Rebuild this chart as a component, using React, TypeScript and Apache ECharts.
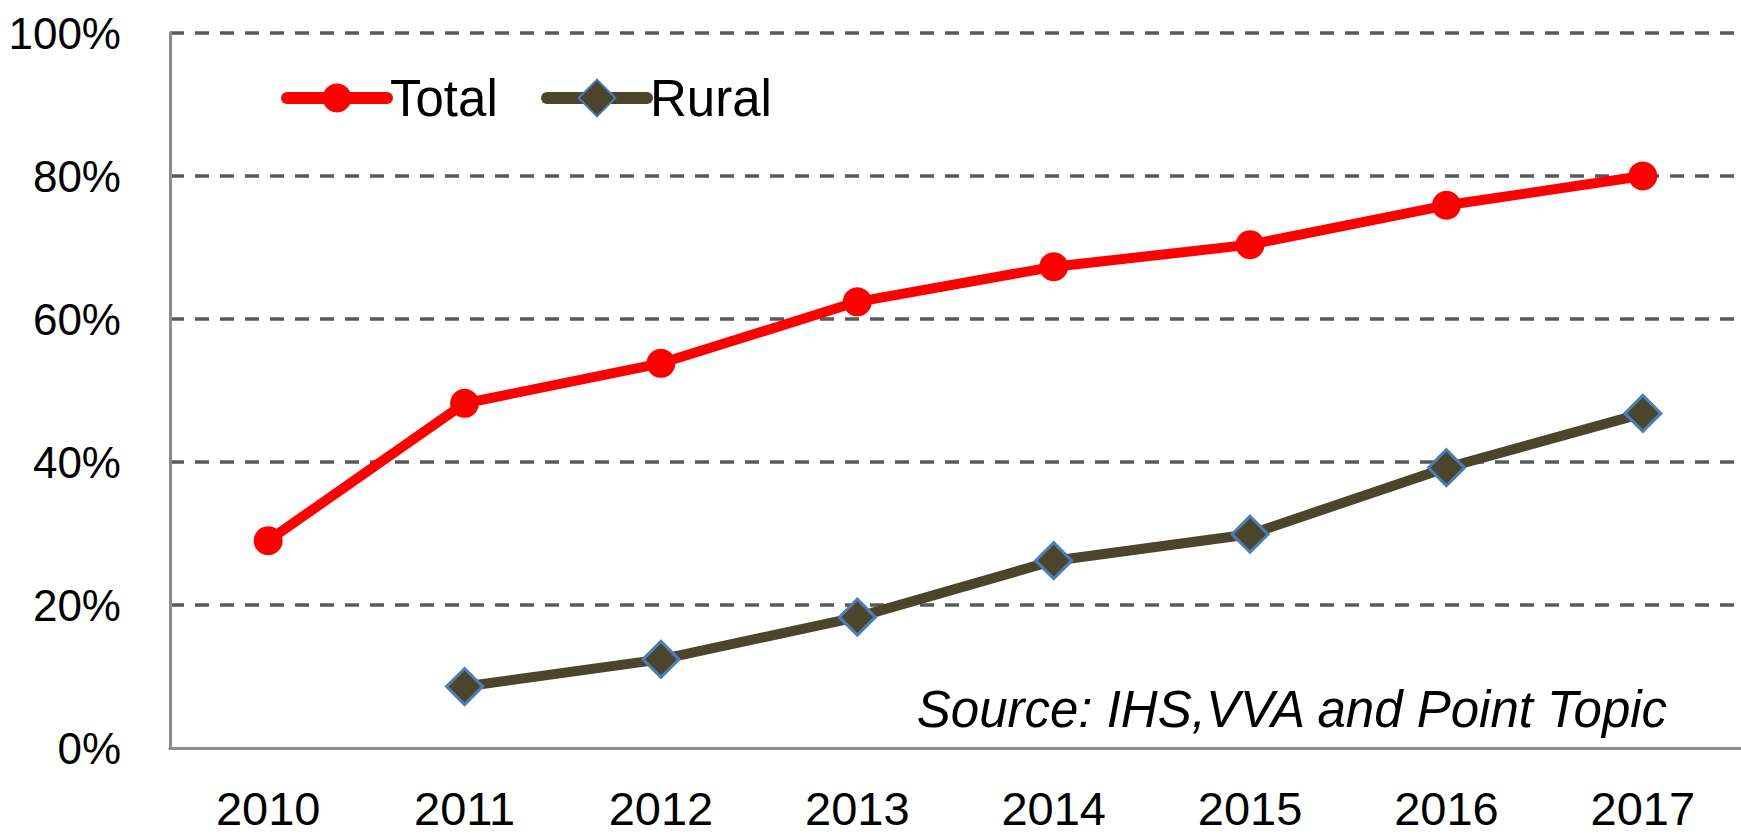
import React, { useEffect, useRef } from "react";
import * as echarts from "echarts";

const years = ["2010", "2011", "2012", "2013", "2014", "2015", "2016", "2017"];
const totalValues = [29.0, 48.2, 53.8, 62.4, 67.3, 70.4, 75.9, 80.0];
const ruralValues = [null, 8.6, 12.4, 18.3, 26.2, 29.9, 39.2, 46.8];
const yTicks = [0, 20, 40, 60, 80, 100];
const sourceText = "Source: IHS,VVA and Point Topic";

const FONT = "'Liberation Sans', Arial, sans-serif";

const legendText = {
  fontFamily: FONT,
  fontSize: 51,
  lineHeight: 56,
  color: "#000",
  padding: [0, 0, 0, -2],
};

export default function App() {
  const ref = useRef<HTMLDivElement>(null);
  useEffect(() => {
    if (!ref.current) return;
    const chart = echarts.init(ref.current, undefined, { renderer: "svg" });
    chart.setOption({
      animation: false,
      backgroundColor: "#ffffff",
      grid: {
        left: 170,
        right: 0,
        top: 33,
        bottom: 89,
        containLabel: false,
        outerBoundsMode: "none",
      },
      legend: [
        {
          left: 276,
          top: 65,
          itemWidth: 100,
          itemHeight: 36,
          lineStyle: { width: 12, cap: "round" },
          textStyle: legendText,
          data: ["Total"],
        },
        {
          left: 536,
          top: 65,
          itemWidth: 100,
          itemHeight: 46,
          lineStyle: { width: 12, cap: "round" },
          textStyle: legendText,
          data: ["Rural"],
        },
      ],
      xAxis: {
        type: "category",
        data: years,
        boundaryGap: true,
        z: 3,
        axisLine: { show: true, lineStyle: { color: "#8c8c8c", width: 3 } },
        axisTick: { show: false },
        axisLabel: {
          fontFamily: FONT,
          fontSize: 47,
          lineHeight: 47,
          color: "#000",
          margin: 37,
        },
        splitLine: { show: false },
      },
      yAxis: {
        type: "value",
        min: yTicks[0],
        max: yTicks[yTicks.length - 1],
        interval: 20,
        axisLine: { show: true, lineStyle: { color: "#8c8c8c", width: 3 } },
        axisTick: { show: false },
        axisLabel: {
          fontFamily: FONT,
          fontSize: 44,
          color: "#000",
          margin: 49,
          formatter: (v: number) => `${v}%`,
        },
        splitLine: {
          show: true,
          showMinLine: false,
          lineStyle: { color: "#595959", width: 3.5, type: [14, 11] },
        },
      },
      series: [
        {
          name: "Total",
          type: "line",
          data: totalValues,
          symbol: "circle",
          symbolSize: 29,
          lineStyle: { color: "#ff0000", width: 10 },
          itemStyle: { color: "#ff0000" },
          z: 3,
        },
        {
          name: "Rural",
          type: "line",
          data: ruralValues,
          symbol: "diamond",
          symbolSize: 36,
          lineStyle: { color: "#4b452c", width: 10 },
          itemStyle: { color: "#4b452c", borderColor: "#4a7ebb", borderWidth: 3 },
          z: 2,
        },
      ],
      graphic: [
        {
          type: "text",
          right: 72,
          top: 684,
          style: {
            text: sourceText,
            font: `italic 51px ${FONT}`,
            fill: "#000",
          },
        },
      ],
    });
    return () => chart.dispose();
  }, []);
  return (
    <div
      ref={ref}
      style={{ position: "fixed", left: 0, top: 0, width: 1741, height: 837 }}
    />
  );
}
